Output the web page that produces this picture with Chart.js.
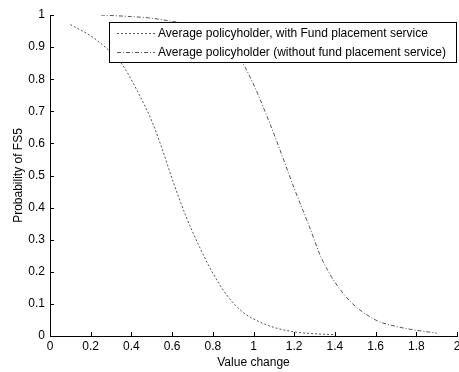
<!DOCTYPE html>
<html>
<head>
<meta charset="utf-8">
<script src="https://cdn.jsdelivr.net/npm/chart.js@4"></script>
<style>
    html, body { margin: 0; padding: 0; background: #fff; }
    #wrap { width: 459px; height: 372px; position: relative; }
</style>
</head>
<body>
<div id="wrap"><canvas id="chart"></canvas></div>
<script>
const seriesLabels = [
    'Average policyholder, with Fund placement service',
    'Average policyholder (without fund placement service)'
];

// left curve
const withX = [0.10, 0.20, 0.28, 0.35, 0.44, 0.50, 0.55, 0.60, 0.67, 0.735, 0.80, 0.868, 0.946, 1.03, 1.11, 1.21, 1.30, 1.40];
const withY = [0.97, 0.935, 0.895, 0.85, 0.75, 0.67, 0.585, 0.49, 0.37, 0.277, 0.196, 0.128, 0.075, 0.044, 0.025, 0.012, 0.007, 0.004];

// right curve
const withoutX = [0.25, 0.40, 0.50, 0.60, 0.70, 0.80, 0.86, 0.917, 0.995, 1.064, 1.127, 1.20, 1.275, 1.338, 1.456, 1.60, 1.70, 1.78, 1.90];
const withoutY = [1.00, 0.995, 0.99, 0.98, 0.97, 0.945, 0.92, 0.882, 0.791, 0.688, 0.585, 0.46, 0.34, 0.237, 0.121, 0.050, 0.03, 0.02, 0.009];

const xTicks = [0, 0.2, 0.4, 0.6, 0.8, 1, 1.2, 1.4, 1.6, 1.8, 2];
const yTicks = [0, 0.1, 0.2, 0.3, 0.4, 0.5, 0.6, 0.7, 0.8, 0.9, 1];

const FONT = "'Liberation Sans', Arial, sans-serif";

function toPoints(xs, ys) {
    return xs.map((x, i) => ({ x: x, y: ys[i] }));
}

// MATLAB style inward ticks + boxed legend inside the axes
const matlabBits = {
    id: 'matlabBits',
    afterDatasetsDraw(chart) {
        const ctx = chart.ctx;
        const area = chart.chartArea;
        const xs = chart.scales.x;
        const ys = chart.scales.y;
        ctx.save();
        ctx.strokeStyle = '#000';
        ctx.lineWidth = 1;
        ctx.beginPath();
        xTicks.forEach(v => {
            const px = Math.round(xs.getPixelForValue(v)) + 0.5;
            ctx.moveTo(px, area.bottom);
            ctx.lineTo(px, area.bottom - 4);
        });
        yTicks.forEach(v => {
            const py = Math.round(ys.getPixelForValue(v)) + 0.5;
            ctx.moveTo(area.left, py);
            ctx.lineTo(area.left + 4, py);
        });
        ctx.stroke();

        // legend box
        const box = { x: 109.5, y: 22.5, w: 347, h: 40 };
        ctx.fillStyle = '#fff';
        ctx.fillRect(box.x, box.y, box.w, box.h);
        ctx.strokeStyle = '#000';
        ctx.strokeRect(box.x, box.y, box.w, box.h);

        ctx.font = '12px ' + FONT;
        ctx.textBaseline = 'middle';
        ctx.fillStyle = '#000';
        chart.data.datasets.forEach((ds, i) => {
            const cy = 33.5 + i * 19;
            ctx.strokeStyle = ds.borderColor;
            ctx.setLineDash(ds.borderDash);
            ctx.beginPath();
            ctx.moveTo(117, cy);
            ctx.lineTo(155, cy);
            ctx.stroke();
            ctx.setLineDash([]);
            ctx.fillText(ds.label, 158, cy);
        });
        ctx.restore();
    }
};

new Chart(document.getElementById('chart'), {
    type: 'line',
    data: {
        datasets: [
            {
                label: seriesLabels[0],
                data: toPoints(withX, withY),
                borderColor: '#555',
                borderWidth: 1,
                borderDash: [2, 2],
                pointRadius: 0,
                fill: false,
                cubicInterpolationMode: 'monotone'
            },
            {
                label: seriesLabels[1],
                data: toPoints(withoutX, withoutY),
                borderColor: '#555',
                borderWidth: 1,
                borderDash: [4, 2, 1, 2],
                pointRadius: 0,
                fill: false,
                cubicInterpolationMode: 'monotone'
            }
        ]
    },
    options: {
        responsive: true,
        maintainAspectRatio: false,
        animation: false,
        layout: { padding: { top: 15, right: 2, left: 0, bottom: 0 } },
        plugins: {
            legend: { display: false },
            tooltip: { enabled: false }
        },
        scales: {
            x: {
                type: 'linear',
                min: 0,
                max: 2,
                afterBuildTicks: scale => { scale.ticks = xTicks.map(v => ({ value: v })); },
                afterFit: scale => {
                    scale.height = 36;
                    scale.paddingLeft = 0;
                    scale.paddingRight = 0;
                },
                grid: { display: true, drawOnChartArea: false, drawTicks: false },
                border: { display: true, color: '#000', width: 1 },
                ticks: {
                    color: '#000',
                    padding: 3,
                    maxRotation: 0,
                    autoSkip: false,
                    font: { family: FONT, size: 12 },
                    callback: v => String(Math.round(v * 10) / 10)
                },
                title: {
                    display: true,
                    text: 'Value change',
                    color: '#000',
                    padding: { top: 0, bottom: 2 },
                    font: { family: FONT, size: 12 }
                }
            },
            y: {
                type: 'linear',
                min: 0,
                max: 1,
                afterBuildTicks: scale => { scale.ticks = yTicks.map(v => ({ value: v })); },
                afterFit: scale => {
                    scale.width = 50;
                    scale.paddingTop = 0;
                    scale.paddingBottom = 0;
                },
                grid: { display: true, drawOnChartArea: false, drawTicks: false },
                border: { display: true, color: '#000', width: 1 },
                ticks: {
                    color: '#000',
                    padding: 5,
                    autoSkip: false,
                    font: { family: FONT, size: 12 },
                    callback: v => String(Math.round(v * 10) / 10)
                },
                title: {
                    display: true,
                    text: 'Probability of FS5',
                    color: '#000',
                    padding: { top: 11, bottom: 0 },
                    font: { family: FONT, size: 12 }
                }
            }
        }
    },
    plugins: [matlabBits]
});
</script>
</body>
</html>
